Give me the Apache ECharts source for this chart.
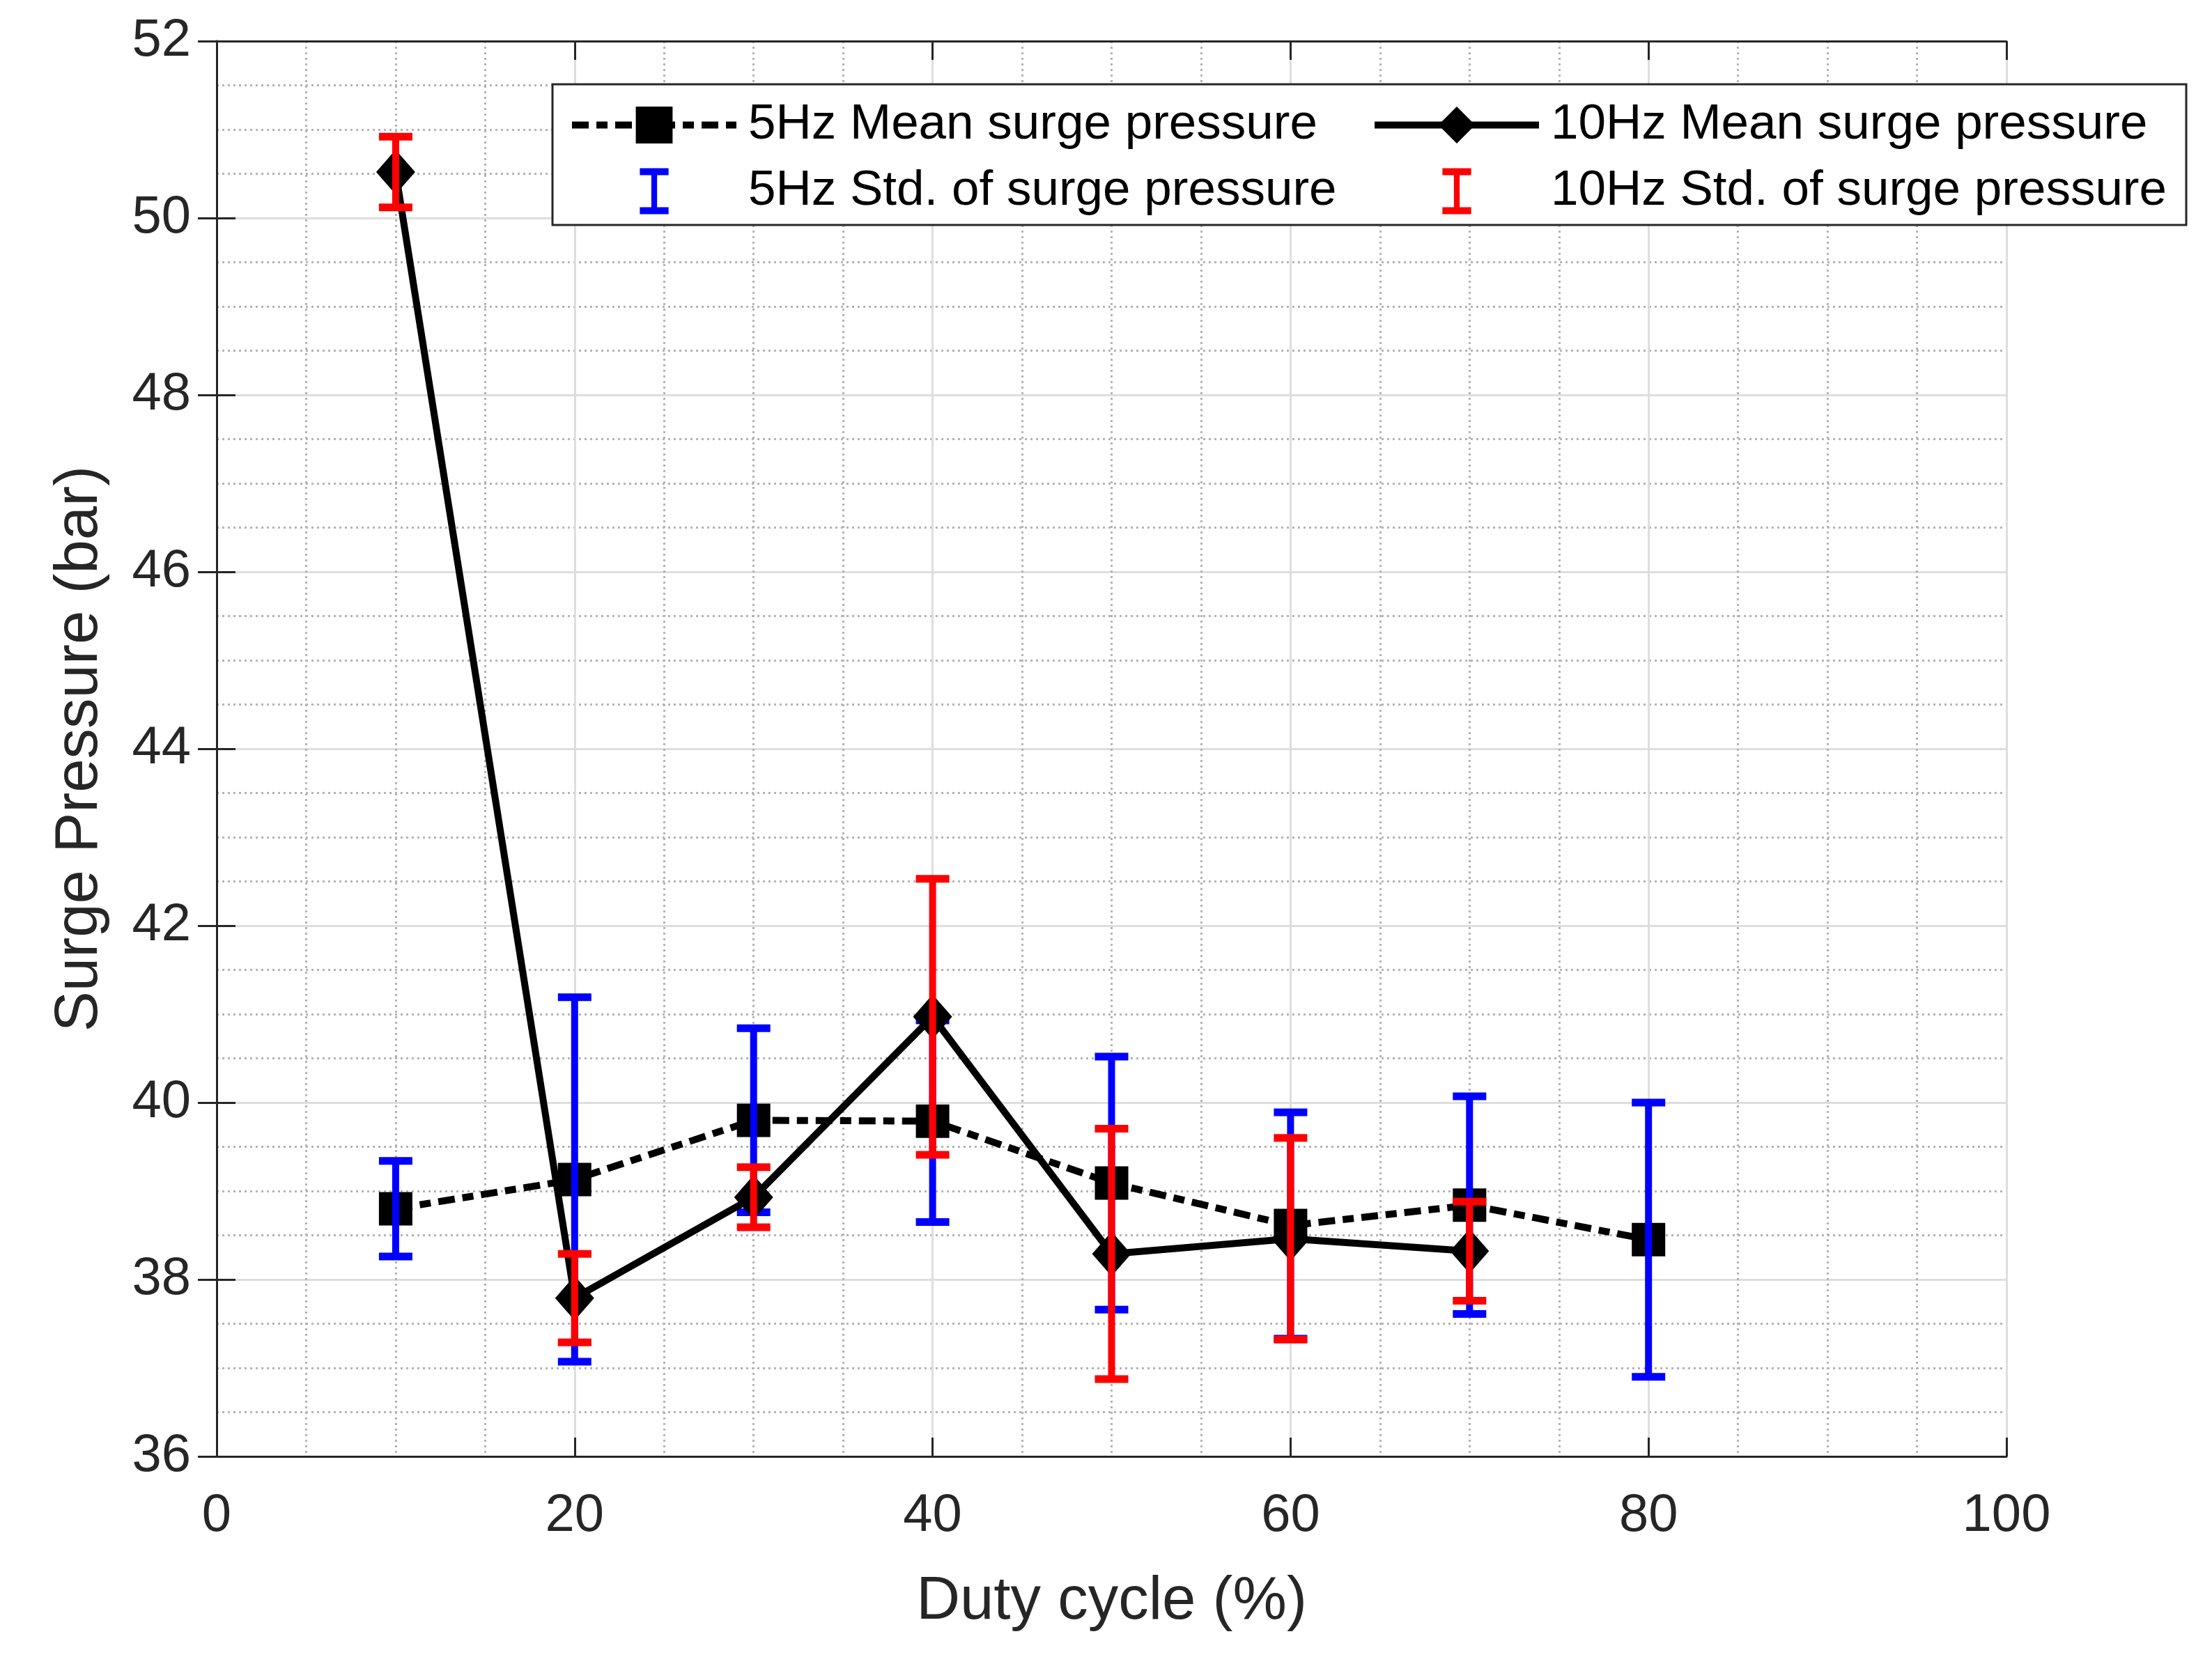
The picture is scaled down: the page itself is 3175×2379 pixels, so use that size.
<!DOCTYPE html>
<html>
<head>
<meta charset="utf-8">
<title>Surge pressure vs duty cycle</title>
<script src="https://cdn.jsdelivr.net/npm/echarts@6/dist/echarts.min.js"></script>
<style>
  html, body { margin: 0; padding: 0; background: #fff; }
  #chart { width: 3175px; height: 2379px; }
</style>
</head>
<body>
<div id="chart"></div>
<script>
// duty cycle (%) for each test
var duty5 = [10, 20, 30, 40, 50, 60, 70, 80];
var duty10 = [10, 20, 30, 40, 50, 60, 70];

// mean surge pressure (bar) and its standard deviation
var mean5 = [38.80, 39.13, 39.80, 39.79, 39.09, 38.61, 38.84, 38.45];
var std5 = [0.54, 2.06, 1.04, 1.14, 1.43, 1.28, 1.23, 1.55];
var mean10 = [50.52, 37.79, 38.93, 40.97, 38.29, 38.46, 38.32];
var std10 = [0.40, 0.50, 0.34, 1.56, 1.415, 1.14, 0.56];

var xTicks = [0, 20, 40, 60, 80, 100];
var yTicks = [36, 38, 40, 42, 44, 46, 48, 50, 52];

var FONT = '"Liberation Sans", Arial, Helvetica, sans-serif';
var AXIS_COLOR = '#262626';
var IBEAM = 'path://M0,0 L50,0 L50,12 L30,12 L30,68 L50,68 L50,80 L0,80 L0,68 L20,68 L20,12 L0,12 Z';

function pairs(xs, ys) {
    return xs.map(function (x, i) { return [x, ys[i]]; });
}
function errRows(xs, ys, sd) {
    return xs.map(function (x, i) { return [x, ys[i] - sd[i], ys[i] + sd[i]]; });
}

function errorBar(params, api) {
    var x = api.value(0);
    var lo = api.coord([x, api.value(1)]);
    var hi = api.coord([x, api.value(2)]);
    var cap = 24;
    var style = { stroke: api.visual('color'), lineWidth: 10 };
    var capStyle = { stroke: api.visual('color'), lineWidth: 11 };
    return {
        type: 'group',
        children: [
            { type: 'line', shape: { x1: lo[0], y1: lo[1], x2: hi[0], y2: hi[1] }, style: style },
            { type: 'line', shape: { x1: lo[0] - cap, y1: lo[1], x2: lo[0] + cap, y2: lo[1] }, style: capStyle },
            { type: 'line', shape: { x1: hi[0] - cap, y1: hi[1], x2: hi[0] + cap, y2: hi[1] }, style: capStyle }
        ]
    };
}

var chart = echarts.init(document.getElementById('chart'), null, { renderer: 'canvas' });

var tickStyle = { show: true, inside: true, length: 27, lineStyle: { color: AXIS_COLOR, width: 3 } };
var lineAxis = { show: true, lineStyle: { color: AXIS_COLOR, width: 3 } };
var labelStyle = { color: AXIS_COLOR, fontSize: 76, fontFamily: FONT };
var majorGrid = { show: true, lineStyle: { color: '#dedede', width: 3 } };
var minorGrid = { show: true, lineStyle: { color: '#b4b4b4', width: 3, type: [3, 5] } };

var legendText = { fontSize: 71, color: '#000', fontFamily: FONT, padding: [0, 0, 0, 12] };
var legendLine = { width: 10 };

var option = {
    animation: false,
    backgroundColor: '#fff',
    grid: { left: 311, top: 59, right: 295, bottom: 288, containLabel: false },
    xAxis: [
        {
            type: 'value', position: 'bottom', min: 0, max: 100, interval: 20,
            name: 'Duty cycle (%)', nameLocation: 'middle', nameGap: 166,
            nameTextStyle: { color: AXIS_COLOR, fontSize: 87, fontFamily: FONT },
            axisLine: lineAxis, axisTick: tickStyle,
            axisLabel: Object.assign({ margin: 48 }, labelStyle),
            splitLine: majorGrid,
            minorTick: { show: false, splitNumber: 4 },
            minorSplitLine: minorGrid
        },
        {
            type: 'value', position: 'top', min: 0, max: 100, interval: 20,
            axisLine: lineAxis, axisTick: tickStyle,
            axisLabel: { show: false }, splitLine: { show: false }
        }
    ],
    yAxis: [
        {
            type: 'value', position: 'left', min: 36, max: 52, interval: 2,
            name: 'Surge Pressure (bar)', nameLocation: 'middle', nameGap: 152,
            nameTextStyle: { color: AXIS_COLOR, fontSize: 87, fontFamily: FONT },
            axisLine: lineAxis, axisTick: tickStyle,
            axisLabel: Object.assign({ margin: 37 }, labelStyle),
            splitLine: majorGrid,
            minorTick: { show: false, splitNumber: 4 },
            minorSplitLine: minorGrid
        },
        {
            type: 'value', position: 'right', min: 36, max: 52, interval: 2,
            axisLine: lineAxis, axisTick: tickStyle,
            axisLabel: { show: false }, splitLine: { show: false }
        }
    ],
    legend: [
        {
            orient: 'vertical', left: 816, top: 144, padding: 0,
            itemWidth: 236, itemHeight: 66, itemGap: 24,
            textStyle: legendText, lineStyle: legendLine,
            data: ['5Hz Mean surge pressure', { name: '5Hz Std. of surge pressure', icon: IBEAM }]
        },
        {
            orient: 'vertical', left: 1968, top: 144, padding: 0,
            itemWidth: 236, itemHeight: 66, itemGap: 24,
            textStyle: legendText, lineStyle: legendLine,
            data: ['10Hz Mean surge pressure', { name: '10Hz Std. of surge pressure', icon: IBEAM }]
        }
    ],
    graphic: [
        {
            type: 'rect', z: 3,
            shape: { x: 793, y: 121, width: 2345, height: 202 },
            style: { fill: '#fff', stroke: AXIS_COLOR, lineWidth: 3 }
        }
    ],
    series: [
        {
            name: '5Hz Mean surge pressure', type: 'line', z: 2,
            data: pairs(duty5, mean5),
            symbol: 'rect', symbolSize: 48,
            itemStyle: { color: '#000' },
            lineStyle: { color: '#000', width: 10, type: [24, 11, 16, 11] }
        },
        {
            name: '5Hz Std. of surge pressure', type: 'custom', z: 3,
            data: errRows(duty5, mean5, std5),
            renderItem: errorBar,
            itemStyle: { color: '#0000ff' },
            encode: { x: 0, y: [1, 2] }
        },
        {
            name: '10Hz Mean surge pressure', type: 'line', z: 4,
            data: pairs(duty10, mean10),
            symbol: 'diamond', symbolSize: [56, 64],
            itemStyle: { color: '#000' },
            lineStyle: { color: '#000', width: 10 }
        },
        {
            name: '10Hz Std. of surge pressure', type: 'custom', z: 5,
            data: errRows(duty10, mean10, std10),
            renderItem: errorBar,
            itemStyle: { color: '#ff0000' },
            encode: { x: 0, y: [1, 2] }
        }
    ]
};

chart.setOption(option);
</script>
</body>
</html>
